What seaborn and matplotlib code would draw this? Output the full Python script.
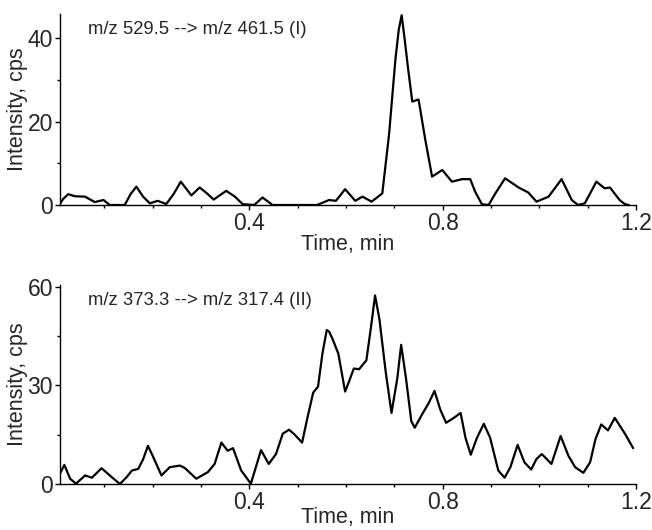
"""MRM chromatograms for transitions I and II."""

import matplotlib
matplotlib.use("Agg")
import matplotlib.pyplot as plt
import seaborn as sns

# transition I: m/z 529.5 --> m/z 461.5
time_1 = [0.008, 0.015, 0.025, 0.039, 0.06, 0.08, 0.098, 0.111, 0.142, 0.154,
          0.166, 0.18, 0.194, 0.21, 0.228, 0.243, 0.258, 0.28, 0.297, 0.312,
          0.326, 0.352, 0.37, 0.386, 0.41, 0.427, 0.448, 0.54, 0.565, 0.579,
          0.598, 0.619, 0.634, 0.653, 0.675, 0.689, 0.702, 0.709, 0.715, 0.721,
          0.728, 0.737, 0.75, 0.764, 0.778, 0.799, 0.819, 0.84, 0.857, 0.867,
          0.881, 0.895, 0.909, 0.929, 0.957, 0.977, 0.994, 1.019, 1.046, 1.067,
          1.08, 1.094, 1.118, 1.135, 1.146, 1.166, 1.177, 1.185]
intensity_1 = [0.3, 1.5, 2.6, 2.1, 2.0, 0.7, 1.2, 0.0, 0.0, 2.6,
               4.4, 2.0, 0.4, 1.0, 0.25, 2.6, 5.6, 2.3, 4.2, 2.8,
               1.3, 3.4, 2.0, 0.2, 0.0, 1.8, 0.0, 0.0, 1.2, 1.0,
               3.8, 1.0, 2.0, 0.8, 2.8, 17.0, 34.8, 42.0, 45.5, 40.0,
               33.0, 24.8, 25.3, 15.6, 6.8, 8.4, 5.6, 6.2, 6.2, 3.2,
               0.2, 0.0, 2.8, 6.4, 4.2, 3.0, 0.8, 2.0, 6.2, 1.2,
               0.0, 0.4, 5.6, 4.0, 4.2, 1.2, 0.2, 0.0]

# transition II: m/z 373.3 --> m/z 317.4
time_2 = [0.006, 0.017, 0.029, 0.041, 0.06, 0.074, 0.094, 0.115, 0.132, 0.146,
          0.157, 0.17, 0.18, 0.19, 0.2, 0.218, 0.235, 0.256, 0.266, 0.29,
          0.314, 0.328, 0.342, 0.355, 0.366, 0.383, 0.403, 0.424, 0.44, 0.455,
          0.469, 0.482, 0.493, 0.509, 0.52, 0.532, 0.542, 0.551, 0.56, 0.565,
          0.572, 0.584, 0.598, 0.606, 0.616, 0.627, 0.642, 0.651, 0.66, 0.669,
          0.682, 0.694, 0.706, 0.714, 0.724, 0.735, 0.742, 0.757, 0.771, 0.783,
          0.795, 0.807, 0.823, 0.837, 0.847, 0.858, 0.871, 0.885, 0.898, 0.915,
          0.928, 0.94, 0.955, 0.969, 0.983, 0.994, 1.005, 1.015, 1.025, 1.044,
          1.06, 1.074, 1.091, 1.105, 1.116, 1.128, 1.142, 1.156, 1.177, 1.194]
intensity_2 = [2.6, 5.8, 1.6, 0.1, 2.6, 1.9, 4.8, 2.1, 0.0, 2.1,
               4.1, 4.6, 7.5, 11.6, 8.5, 2.6, 5.1, 5.6, 4.9, 1.6,
               3.6, 6.1, 12.6, 10.1, 10.9, 4.1, 0.1, 10.3, 6.1, 9.1,
               15.3, 16.5, 15.1, 12.6, 20.1, 27.8, 29.6, 39.6, 46.8, 46.3,
               44.1, 39.6, 28.1, 31.1, 35.1, 34.9, 37.6, 47.1, 57.3, 50.1,
               34.1, 21.6, 32.1, 42.3, 32.1, 19.1, 17.1, 21.1, 24.6, 28.3,
               22.6, 18.6, 20.1, 21.6, 14.1, 8.9, 14.1, 18.3, 14.1, 4.1,
               1.9, 5.1, 11.9, 6.6, 4.4, 7.6, 9.1, 7.6, 6.1, 14.6,
               8.6, 5.1, 3.4, 6.6, 13.6, 18.1, 16.3, 20.1, 15.3, 10.9]

labels = ["m/z 529.5 --> m/z 461.5 (I)", "m/z 373.3 --> m/z 317.4 (II)"]
y_major = [[0, 20, 40], [0, 30, 60]]
y_minor = [[10, 30], [15, 45]]
y_top = [45.8, 60.5]
x_major = [0.4, 0.8, 1.2]
x_minor = [0.1, 0.2, 0.3, 0.5, 0.6, 0.7, 0.9, 1.0, 1.1]

sns.set_style("ticks")
plt.rcParams["font.family"] = ["Liberation Sans", "DejaVu Sans"]

fig = plt.figure(figsize=(6.52, 5.30), dpi=100)
ax1 = fig.add_axes([0.092, 0.6132, 0.8835, 0.3604])
ax2 = fig.add_axes([0.092, 0.0868, 0.8835, 0.3755])

series = [(time_1, intensity_1), (time_2, intensity_2)]
for i, ax in enumerate([ax1, ax2]):
    t, y = series[i]
    sns.lineplot(x=t, y=y, ax=ax, color="black", lw=1.6, sort=False,
                 estimator=None, solid_joinstyle="round",
                 solid_capstyle="round")
    ax.set_xlim(0.008, 1.2)
    ax.set_ylim(0, y_top[i])
    ax.set_xticks(x_major)
    ax.set_xticks(x_minor, minor=True)
    ax.set_xticklabels(["0.4", "0.8", "1.2"])
    ax.set_yticks(y_major[i])
    ax.set_yticks(y_minor[i], minor=True)
    ax.tick_params(which="major", direction="out", length=3.5, width=1,
                   labelsize=16.5, pad=1.5, color="black")
    ax.tick_params(which="minor", direction="out", length=2.5, width=1,
                   color="black")
    ax.set_xlabel("Time, min", fontsize=15.5, labelpad=-1 if i == 0 else -5)
    ax.set_ylabel("Intensity, cps", fontsize=15.5, labelpad=0)
    for s in ["left", "bottom"]:
        ax.spines[s].set_linewidth(1.0)
        ax.spines[s].set_color("black")
    sns.despine(ax=ax)
    ax.text(0.048, 0.92, labels[i], transform=ax.transAxes,
            fontsize=13.3, va="center", ha="left")

fig.savefig("out.png", dpi=100)
